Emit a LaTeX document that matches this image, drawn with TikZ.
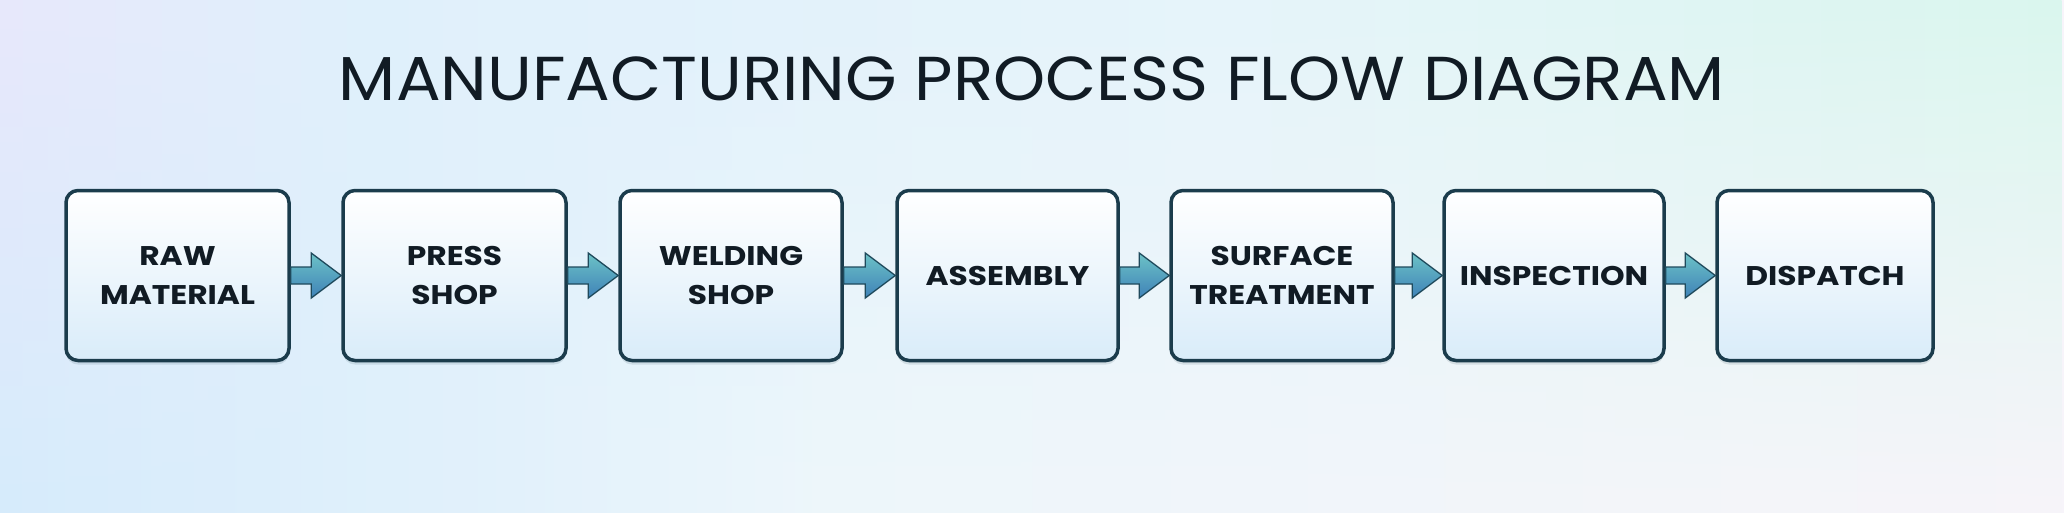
\documentclass[tikz,border=0pt]{standalone}
\usepackage{fontspec}
\setmainfont{Poppins}
\newfontfamily\boxfont{Poppins}[FakeStretch=1.16]
\newfontfamily\titlefont{Poppins}[FakeStretch=1.07]
\usetikzlibrary{calc,shadows,fadings}
\definecolor{tL}{HTML}{E8E8FB}
\definecolor{tM}{HTML}{E0F0FB}
\definecolor{tN}{HTML}{E6F4FA}
\definecolor{tR}{HTML}{DAF7EE}
\definecolor{bL}{HTML}{D6ECFB}
\definecolor{bM}{HTML}{EEF7FB}
\definecolor{bR}{HTML}{F7F4FA}
\definecolor{boxline}{HTML}{1B3C4C}
\definecolor{boxbot}{HTML}{D9ECF9}
\definecolor{txt}{HTML}{111B24}
\definecolor{arrtop}{HTML}{6CC2C6}
\definecolor{arrbot}{HTML}{3F82B8}
\definecolor{arrline}{HTML}{1F4A5C}
\pgfdeclarehorizontalshading{topband}{100bp}{color(0bp)=(tL); color(25bp)=(tL); color(34bp)=(tM); color(55bp)=(tN); color(75bp)=(tR); color(100bp)=(tR)}
\pgfdeclarehorizontalshading{botband}{100bp}{color(0bp)=(bL); color(25bp)=(bL); color(35bp)=(bL!60!bM); color(45bp)=(bM); color(75bp)=(bR); color(100bp)=(bR)}
\tikzfading[name=fadedown, top color=transparent!0, bottom color=transparent!100]
\tikzset{
  stepbox/.style={draw=boxline, line width=3.5pt, rounded corners=12pt,
    top color=white, bottom color=boxbot, minimum height=170pt,
    align=center, text=txt, inner sep=0pt,
    font=\boxfont\fontsize{27}{39}\selectfont\bfseries,
    drop shadow={shadow xshift=0pt, shadow yshift=-4pt, opacity=0.12, fill=boxline}},
  flowarrow/.style={draw=arrline, line width=1.3pt, line join=miter,
    top color=arrtop, bottom color=arrbot},
  titlestyle/.style={text=txt, font=\titlefont\fontsize{62}{70}\selectfont, inner sep=0pt}
}
\newcommand{\blockarrow}[2]{%
  \path[flowarrow] let \p1=(#1.east), \p2=(#2.west) in
    (\x1,\y1-8.5) -- (\x2-30,\y1-8.5) -- (\x2-30,\y1-22.5) -- (\x2,\y1)
    -- (\x2-30,\y1+22.5) -- (\x2-30,\y1+8.5) -- (\x1,\y1+8.5) -- cycle;}
\begin{document}
\begin{tikzpicture}[x=1pt,y=-1pt]
\useasboundingbox (0,0) rectangle (2064,512);
\shade[shading=botband] (0,0) rectangle (2064,512);
\shade[shading=topband, path fading=fadedown] (0,0) rectangle (2064,512);

\node[titlestyle] (title) at (1032,79) {MANUFACTURING PROCESS FLOW DIAGRAM};

\node[stepbox, minimum width=223pt] (b1) at (177.5,275.5) {RAW\\MATERIAL};
\node[stepbox, minimum width=223pt] (b2) at (454.5,275.5) {PRESS\\SHOP};
\node[stepbox, minimum width=222pt] (b3) at (731,275.5) {WELDING\\SHOP};
\node[stepbox, minimum width=221pt] (b4) at (1007.5,275.5) {ASSEMBLY};
\node[stepbox, minimum width=222pt] (b5) at (1282,275.5) {SURFACE\\TREATMENT};
\node[stepbox, minimum width=220pt] (b6) at (1554,275.5) {INSPECTION};
\node[stepbox, minimum width=216pt] (b7) at (1825,275.5) {DISPATCH};

\blockarrow{b1}{b2}
\blockarrow{b2}{b3}
\blockarrow{b3}{b4}
\blockarrow{b4}{b5}
\blockarrow{b5}{b6}
\blockarrow{b6}{b7}
\end{tikzpicture}
\end{document}
